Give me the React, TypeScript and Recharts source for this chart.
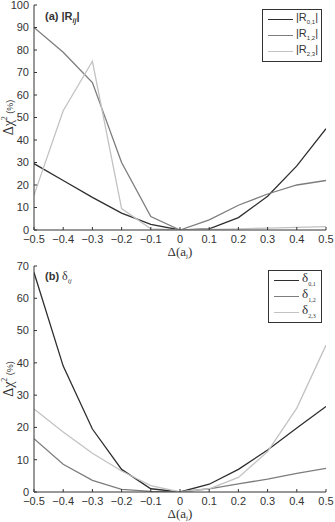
import React from 'react';
import { LineChart, Line, XAxis, YAxis, Legend } from 'recharts';

// Categories (Δ(a_j))
const deltaA = [-0.5, -0.4, -0.3, -0.2, -0.1, 0, 0.1, 0.2, 0.3, 0.4, 0.5];
const xTicks = [-0.5, -0.4, -0.3, -0.2, -0.1, 0, 0.1, 0.2, 0.3, 0.4, 0.5];

// Panel (a) |R_ij|
const r01 = [29.5, 22, 14.5, 7.5, 2.5, 0, 0.5, 5.5, 15, 28.5, 45];
const r12 = [90, 79, 65.5, 30, 6, 0, 4.5, 11, 16, 20, 22];
const r23 = [15.5, 53, 75, 9.5, 0.5, 0, 0.3, 0.5, 0.8, 1.2, 1.5];
const yTicksA = [0, 10, 20, 30, 40, 50, 60, 70, 80, 90, 100];

// Panel (b) δ_ij
const d01 = [68, 39, 19.5, 7, 1, 0, 2.4, 7, 13, 19.8, 26.5];
const d12 = [16.5, 8.6, 3.6, 0.8, 0.2, 0, 1, 2.5, 4, 5.8, 7.3];
const d23 = [25.7, 18.6, 12, 6.5, 2, 0, 1, 4.5, 12.5, 26, 45.5];
const yTicksB = [0, 10, 20, 30, 40, 50, 60, 70];

const dataA = deltaA.map((x, i) => ({ x, r01: r01[i], r12: r12[i], r23: r23[i] }));
const dataB = deltaA.map((x, i) => ({ x, d01: d01[i], d12: d12[i], d23: d23[i] }));

const DARK = '#2e2e2e';
const MID = '#7d7d7d';
const LIGHT = '#c2c2c2';
const AX = '#333';
const SANS = '"Liberation Sans", Arial, sans-serif';
const SERIF = '"Liberation Serif", "Times New Roman", serif';

const fmtX = (v: number) => (Math.abs(v) < 1e-9 ? '0' : v < 0 ? '\u2212' + Math.abs(v).toFixed(1) : v.toFixed(1));

const tickStyle = { fontSize: 11, fontFamily: SANS, fill: AX };

const YLabel = (props: any) => {
  const vb = props.viewBox || {};
  const cx = (vb.x || 0) + 13;
  const cy = (vb.y || 0) + (vb.height || 0) / 2;
  return (
    <text x={cx} y={cy} transform={`rotate(-90 ${cx} ${cy})`} textAnchor="middle" fill={AX}>
      <tspan fontFamily={SERIF} fontSize={14}>Δχ</tspan>
      <tspan fontFamily={SERIF} fontSize={8} dy={-6}>2</tspan>
      <tspan fontFamily={SANS} fontSize={9} dy={6}> (%)</tspan>
    </text>
  );
};

const XLabel = (dyBase: number) => (props: any) => {
  const vb = props.viewBox || {};
  const cx = (vb.x || 0) + (vb.width || 0) / 2;
  const cy = (vb.y || 0) + dyBase;
  return (
    <text x={cx} y={cy} textAnchor="middle" fill={AX} fontFamily={SERIF} fontSize={13}>
      Δ(a<tspan fontSize={7} dy={2}>j</tspan><tspan dy={-2}>)</tspan>
    </text>
  );
};

const legendBox = (items: { color: string; main: React.ReactNode }[], width: number) => () => (
  <div
    style={{
      border: `1px solid ${AX}`,
      background: '#fff',
      width,
      padding: '1px 0 2px 0',
      boxSizing: 'border-box',
    }}
  >
    {items.map((it, i) => (
      <div key={i} style={{ display: 'flex', alignItems: 'center', height: 16 }}>
        <div style={{ width: 25, height: 0, borderTop: `1.5px solid ${it.color}`, marginLeft: 5, marginRight: 3 }} />
        <div style={{ lineHeight: '16px', color: AX, whiteSpace: 'nowrap' }}>{it.main}</div>
      </div>
    ))}
  </div>
);

const rLabel = (sub: string) => (
  <span style={{ fontFamily: SANS, fontSize: 11 }}>
    |R<sub style={{ fontSize: 6 }}>{sub}</sub>|
  </span>
);
const dLabel = (sub: string) => (
  <span style={{ fontFamily: SERIF, fontSize: 13 }}>
    δ<sub style={{ fontSize: 6 }}>{sub}</sub>
  </span>
);

const LegendA = legendBox(
  [
    { color: DARK, main: rLabel('0,1') },
    { color: MID, main: rLabel('1,2') },
    { color: LIGHT, main: rLabel('2,3') },
  ],
  60
);
const LegendB = legendBox(
  [
    { color: DARK, main: dLabel('0,1') },
    { color: MID, main: dLabel('1,2') },
    { color: LIGHT, main: dLabel('2,3') },
  ],
  54
);

export default function App() {
  return (
    <div style={{ position: 'absolute', left: 0, top: 0, width: 335, height: 522, background: '#fff' }}>
      <div style={{ position: 'relative', width: 335, height: 260 }}>
        <LineChart width={335} height={260} data={dataA} margin={{ top: 5, right: 9, bottom: 0, left: 0 }}>
          <XAxis
            dataKey="x"
            type="number"
            domain={[-0.5, 0.5]}
            ticks={xTicks}
            tickFormatter={fmtX}
            interval={0}
            height={30}
            tickSize={-3}
            tickMargin={8}
            tick={tickStyle}
            stroke={AX}
            allowDataOverflow
            label={{ content: XLabel(26) as any }}
          />
          <YAxis
            type="number"
            domain={[0, 100]}
            ticks={yTicksA}
            interval={0}
            width={34}
            tickSize={-3}
            tickMargin={8}
            tick={tickStyle}
            stroke={AX}
            allowDataOverflow
            label={{ content: YLabel as any }}
          />
          <Legend
            layout="vertical"
            align="center"
            verticalAlign="middle"
            content={LegendA as any}
            wrapperStyle={{ left: 262, top: 9, width: 60 }}
          />
          <Line dataKey="r01" stroke={DARK} strokeWidth={1.3} dot={false} isAnimationActive={false} />
          <Line dataKey="r12" stroke={MID} strokeWidth={1.3} dot={false} isAnimationActive={false} />
          <Line dataKey="r23" stroke={LIGHT} strokeWidth={1.3} dot={false} isAnimationActive={false} />
        </LineChart>
        <div style={{ position: 'absolute', left: 45, top: 10, fontFamily: SANS, fontSize: 11, fontWeight: 'bold', color: AX }}>
          (a) |R<sub style={{ fontSize: 7, fontStyle: 'italic' }}>ij</sub>|
        </div>
      </div>
      <div style={{ position: 'relative', width: 335, height: 262 }}>
        <LineChart width={335} height={262} data={dataB} margin={{ top: 6, right: 9, bottom: 0, left: 0 }}>
          <XAxis
            dataKey="x"
            type="number"
            domain={[-0.5, 0.5]}
            ticks={xTicks}
            tickFormatter={fmtX}
            interval={0}
            height={30}
            tickSize={-3}
            tickMargin={8}
            tick={tickStyle}
            stroke={AX}
            allowDataOverflow
            label={{ content: XLabel(26) as any }}
          />
          <YAxis
            type="number"
            domain={[0, 70]}
            ticks={yTicksB}
            interval={0}
            width={34}
            tickSize={-3}
            tickMargin={8}
            tick={tickStyle}
            stroke={AX}
            allowDataOverflow
            label={{ content: YLabel as any }}
          />
          <Legend
            layout="vertical"
            align="center"
            verticalAlign="middle"
            content={LegendB as any}
            wrapperStyle={{ left: 268, top: 10, width: 54 }}
          />
          <Line dataKey="d01" stroke={DARK} strokeWidth={1.3} dot={false} isAnimationActive={false} />
          <Line dataKey="d12" stroke={MID} strokeWidth={1.3} dot={false} isAnimationActive={false} />
          <Line dataKey="d23" stroke={LIGHT} strokeWidth={1.3} dot={false} isAnimationActive={false} />
        </LineChart>
        <div style={{ position: 'absolute', left: 45, top: 9, fontFamily: SANS, fontSize: 11, color: AX }}>
          <b>(b)</b>{' '}
          <span style={{ fontFamily: SERIF, fontSize: 12 }}>
            δ<sub style={{ fontSize: 7, fontStyle: 'italic' }}>ij</sub>
          </span>
        </div>
      </div>
    </div>
  );
}
